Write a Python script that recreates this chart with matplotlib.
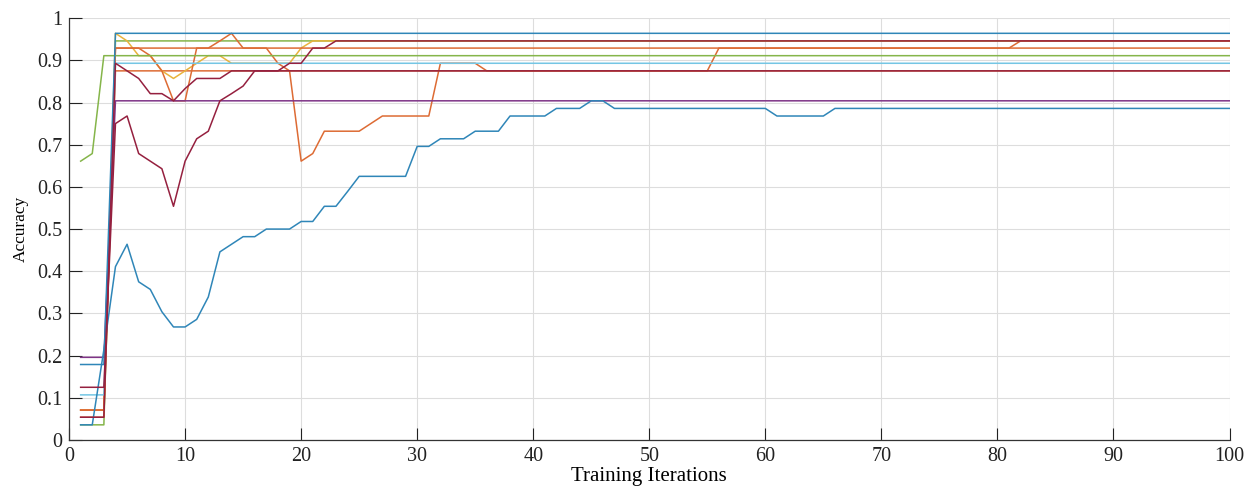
import numpy as np
import matplotlib
matplotlib.use("Agg")
import matplotlib.pyplot as plt

# accuracy per training iteration (x = 1..100)
iterations = np.arange(1, 101)

blue_low = ([0.036, 0.036, 0.214, 0.411, 0.464, 0.375, 0.357, 0.304, 0.268, 0.268,
             0.286, 0.339, 0.446, 0.464, 0.482, 0.482, 0.500, 0.500, 0.500, 0.518,
             0.518, 0.554, 0.554, 0.589]
            + [0.625] * 5 + [0.696] * 2 + [0.714] * 3 + [0.732] * 3 + [0.768] * 4
            + [0.786] * 3 + [0.804] * 2 + [0.786] * 14 + [0.768] * 5 + [0.786] * 35)
blue_top = [0.179] * 3 + [0.964] * 97
purple = [0.196] * 3 + [0.804] * 97
cyan = [0.107] * 3 + [0.893] * 97
orange_flat = [0.071] * 3 + [0.929] * 97
green = [0.661, 0.679] + [0.911] * 98
green2 = [0.036] * 3 + [0.946] * 97
red_875 = [0.054] * 3 + [0.875] * 97
red_dip = ([0.125] * 3
           + [0.750, 0.768, 0.679, 0.661, 0.643, 0.554, 0.661, 0.714, 0.732, 0.804,
              0.821, 0.839]
           + [0.875] * 85)
red_high = ([0.054] * 3
            + [0.893, 0.875, 0.857, 0.821, 0.821, 0.804, 0.833, 0.857, 0.857, 0.857]
            + [0.875] * 5 + [0.893] * 2 + [0.929] * 2 + [0.946] * 78)
orange_dip = ([0.071] * 3 + [0.929] * 3
              + [0.911, 0.875, 0.804, 0.804, 0.929, 0.929, 0.946, 0.964]
              + [0.929] * 3 + [0.893, 0.875, 0.661, 0.679] + [0.732] * 4 + [0.750]
              + [0.768] * 5 + [0.893] * 4 + [0.875] * 20 + [0.929] * 26 + [0.946] * 19)
yellow = ([0.071] * 3
          + [0.964, 0.946, 0.911, 0.911, 0.875, 0.857, 0.875, 0.893, 0.911, 0.911, 0.893]
          + [0.893] * 5 + [0.929] + [0.946] * 80)

c_blue = "#2f86b8"
c_orange = "#dd6b34"
c_yellow = "#e9b33c"
c_purple = "#7f3487"
c_green = "#85b54a"
c_cyan = "#74c6e4"
c_red = "#95203f"

# drawing order: later series sit on top
series = [
    (green2, c_green),
    (red_875, c_orange),
    (yellow, c_yellow),
    (orange_dip, c_orange),
    (orange_flat, c_orange),
    (cyan, c_cyan),
    (green, c_green),
    (purple, c_purple),
    (blue_top, c_blue),
    (blue_low, c_blue),
    (red_high, c_red),
    (red_dip, c_red),
]

plt.rcParams['font.family'] = ['Liberation Serif', 'DejaVu Serif']

fig = plt.figure(figsize=(12.6, 4.9), dpi=100)
ax = fig.add_axes([0.0548, 0.102, 0.921, 0.861])

for vals, col in series:
    ax.plot(iterations, vals, color=col, lw=1.1)

ax.set_xlim(0, 100)
ax.set_ylim(0, 1)
ax.set_xticks(np.arange(0, 101, 10))
ax.set_yticks(np.arange(0, 1.01, 0.1))
ax.set_yticklabels(['0', '0.1', '0.2', '0.3', '0.4', '0.5', '0.6', '0.7', '0.8', '0.9', '1'])
ax.grid(True, color='#dddddd', lw=0.8)
ax.set_axisbelow(True)
ax.tick_params(direction='in', length=9, width=0.8, labelsize=14.5, colors='#222222')
ax.tick_params(axis='x', pad=5)
ax.tick_params(axis='y', pad=5)
for s in ['top', 'right']:
    ax.spines[s].set_visible(False)
for s in ['left', 'bottom']:
    ax.spines[s].set_color('#333333')
    ax.spines[s].set_linewidth(0.9)

ax.set_xlabel('Training Iterations', fontsize=15, labelpad=1)
ax.set_ylabel('Accuracy', fontsize=12.5, labelpad=6)

fig.savefig('out.png', dpi=100)
